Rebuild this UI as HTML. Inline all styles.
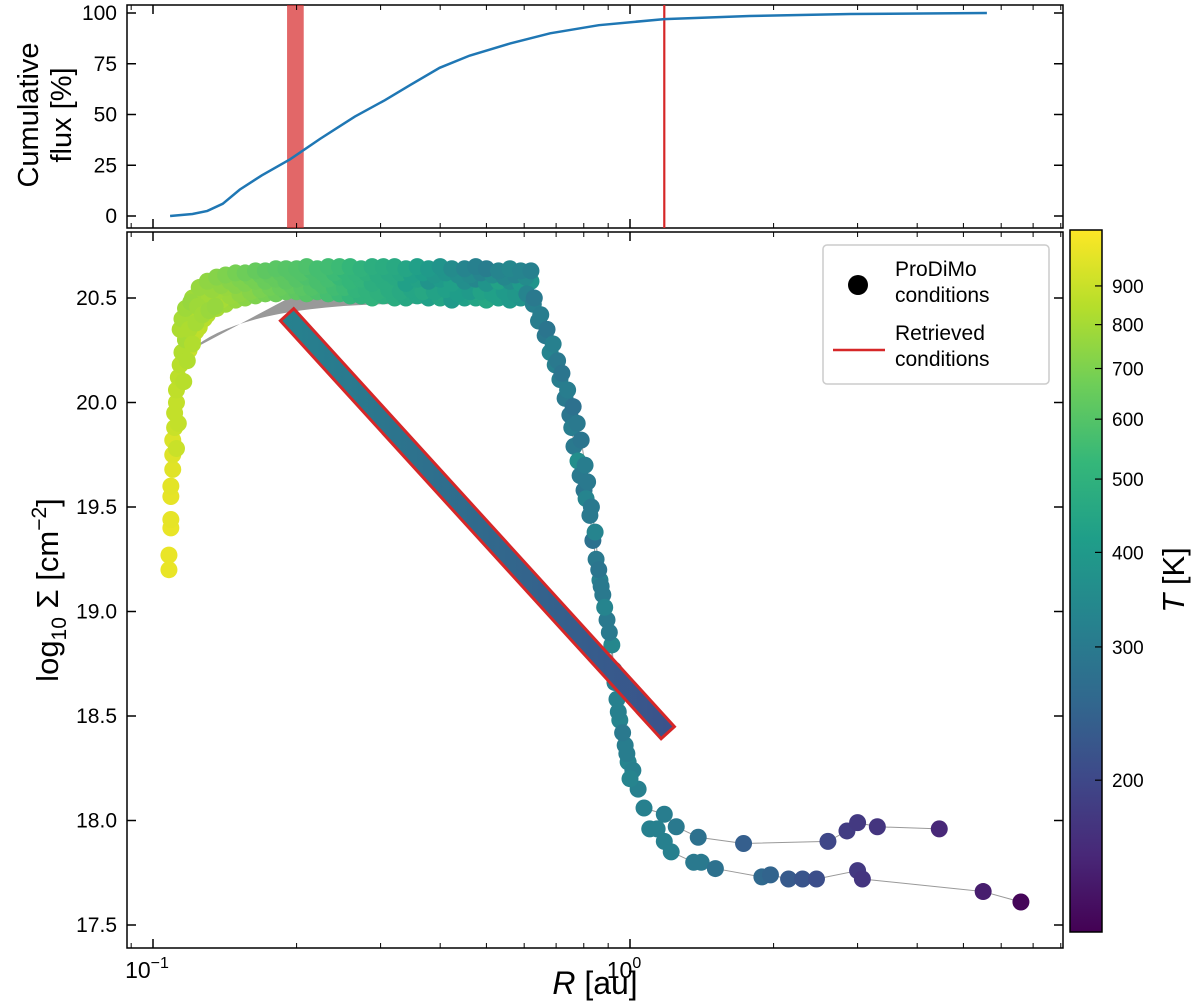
<!DOCTYPE html>
<html><head><meta charset="utf-8"><style>
body{margin:0;background:#fff;}
svg{display:block;font-family:"Liberation Sans",sans-serif;}
</style></head><body>
<svg id="fig" width="1200" height="1001" viewBox="0 0 1200 1001">
<defs>
<linearGradient id="cbgrad" x1="0" y1="1" x2="0" y2="0">
<stop offset="0" stop-color="#440154"/><stop offset="0.11" stop-color="#482878"/><stop offset="0.22" stop-color="#3e4989"/><stop offset="0.33" stop-color="#31688e"/><stop offset="0.44" stop-color="#26828e"/><stop offset="0.56" stop-color="#1f9e89"/><stop offset="0.67" stop-color="#35b779"/><stop offset="0.78" stop-color="#6ece58"/><stop offset="0.89" stop-color="#b5de2b"/><stop offset="1" stop-color="#fde725"/>
</linearGradient>
<linearGradient id="retgrad" x1="0" y1="0" x2="1" y2="0">
<stop offset="0" stop-color="#26828e"/><stop offset="1" stop-color="#3b528b"/>
</linearGradient>
</defs>
<g id="topPanel"></g>
<g id="botPanel"></g>
<g id="cbar"></g>
</svg>
<script>
// ---- data ----
const fluxR=[0.1086,0.121,0.130,0.140,0.152,0.169,0.194,0.224,0.265,0.306,0.346,0.399,0.461,0.561,0.68,0.86,1.18,1.78,2.9,5.6];
const fluxPct=[0,1,2.5,6,13,20,28,38,49,57,64.5,73,79,85,90,94,97,98.5,99.5,100];
const bandLo=[0.191,0.207];
const retrievedLineR=1.18;
const leftR=[0.108,0.108,0.109,0.109,0.109,0.109,0.11,0.11,0.11,0.111,0.111,0.112,0.112,0.113,0.114,0.115,0.117,0.112,0.113,0.116,0.118,0.114,0.115,0.117,0.119,0.121,0.123,0.12,0.124,0.127,0.131,0.135];
const leftS=[19.2,19.27,19.4,19.44,19.55,19.6,19.68,19.75,19.82,19.88,19.95,20.0,20.06,20.12,20.18,20.24,20.3,19.78,19.9,20.1,20.2,20.35,20.4,20.45,20.35,20.28,20.38,20.48,20.46,20.42,20.44,20.46];
const leftT=[1000,1000,1000,990,990,980,970,960,950,900,880,880,870,860,850,830,800,900,880,850,830,820,800,780,820,830,800,760,780,790,770,760];
const bandR=[0.117,0.121,0.125,0.13,0.136,0.142,0.149,0.156,0.164,0.172,0.181,0.19,0.2,0.21,0.221,0.233,0.246,0.259,0.273,0.288,0.304,0.321,0.339,0.358,0.378,0.4,0.423,0.45,0.475,0.5,0.53,0.56,0.59,0.62];
const bandSHi=[20.42,20.5,20.55,20.58,20.6,20.61,20.62,20.62,20.63,20.63,20.64,20.64,20.64,20.65,20.64,20.65,20.65,20.65,20.64,20.65,20.65,20.65,20.64,20.65,20.64,20.65,20.64,20.64,20.65,20.64,20.63,20.64,20.63,20.63];
const bandSMid=[20.3,20.4,20.45,20.5,20.53,20.55,20.56,20.57,20.58,20.58,20.59,20.58,20.59,20.6,20.58,20.59,20.6,20.58,20.59,20.57,20.58,20.6,20.57,20.59,20.58,20.59,20.57,20.58,20.59,20.57,20.58,20.58,20.57,20.58];
const bandSLo=[20.2,20.3,20.36,20.42,20.45,20.47,20.49,20.5,20.51,20.52,20.52,20.53,20.53,20.52,20.53,20.52,20.52,20.51,20.51,20.5,20.51,20.5,20.5,20.51,20.5,20.5,20.49,20.5,20.5,20.49,20.5,20.49,20.5,20.5];
const bandTHi=[820,780,760,740,720,700,680,660,640,620,610,600,590,580,560,550,540,520,500,480,470,460,440,420,400,380,350,330,320,310,330,340,330,320];
const bandTMid=[880,850,820,800,780,760,720,700,680,650,640,620,600,580,570,560,530,520,510,480,470,460,420,430,380,400,420,360,340,380,430,360,400,380];
const bandTLo=[900,880,860,840,800,780,760,730,700,680,660,640,620,600,580,560,540,520,500,500,480,470,450,440,420,440,400,420,440,450,420,400,380,370];
const band2R=[0.119,0.123,0.128,0.133,0.139,0.145,0.152,0.16,0.168,0.176,0.185,0.195,0.205,0.215,0.227,0.24,0.252,0.266,0.28,0.296,0.312,0.33,0.348,0.368,0.389,0.411,0.436,0.462,0.487,0.515,0.545,0.575,0.605];
const band2SA=[20.36,20.45,20.5,20.54,20.56,20.58,20.59,20.6,20.61,20.61,20.62,20.62,20.62,20.63,20.62,20.62,20.63,20.62,20.62,20.61,20.62,20.62,20.61,20.62,20.61,20.62,20.61,20.61,20.62,20.61,20.6,20.61,20.6];
const band2SB=[20.25,20.34,20.4,20.46,20.49,20.51,20.52,20.53,20.54,20.55,20.55,20.56,20.55,20.55,20.56,20.55,20.55,20.54,20.54,20.53,20.54,20.53,20.54,20.53,20.53,20.54,20.52,20.53,20.53,20.52,20.53,20.52,20.53];
const band2TA=[850,820,790,760,740,720,700,680,650,640,620,600,590,570,560,540,520,510,490,470,460,450,420,410,390,380,360,350,330,360,340,330,350];
const band2TB=[890,870,850,820,800,770,740,720,690,670,650,630,610,590,570,550,540,510,500,490,470,460,440,450,430,420,410,400,430,420,400,390,380];
const dropR=[0.608,0.627,0.643,0.664,0.680,0.697,0.713,0.731,0.748,0.755,0.763,0.778,0.786,0.801,0.809,0.824,0.836,0.849,0.865,0.877,0.895,0.916,0.925,0.939,0.952,0.977,0.991,1.014,1.04];
const dropS=[20.52,20.47,20.39,20.32,20.24,20.18,20.11,20.02,19.94,19.88,19.79,19.72,19.65,19.58,19.54,19.46,19.34,19.25,19.15,19.08,18.96,18.84,18.72,18.58,18.48,18.36,18.28,18.24,18.15];
const dropT=[330,320,310,300,330,320,310,300,290,310,300,360,300,290,330,300,280,300,320,300,300,340,300,320,330,310,330,320,320];
const drop2R=[0.63,0.65,0.67,0.69,0.705,0.72,0.74,0.76,0.775,0.79,0.805,0.815,0.83,0.845,0.86,0.87,0.885,0.905,0.93,0.945,0.965,0.985,1.0];
const drop2S=[20.5,20.42,20.35,20.28,20.2,20.14,20.06,19.98,19.9,19.82,19.7,19.62,19.5,19.38,19.2,19.12,19.02,18.9,18.66,18.52,18.42,18.32,18.2];
const drop2T=[300,310,290,320,300,290,310,280,300,290,310,300,300,330,290,300,330,300,310,320,300,310,330];
const upR=[1.07,1.18,1.25,1.39,1.73,2.6,2.85,3.0,3.3,4.45];
const upS=[18.06,18.03,17.97,17.92,17.89,17.90,17.95,17.99,17.97,17.96];
const upT=[320,310,300,280,240,200,185,180,175,160];
const lowR=[1.10,1.14,1.18,1.22,1.36,1.41,1.51,1.89,1.97,2.15,2.30,2.46,3.0,3.07,5.5,6.6];
const lowS=[17.96,17.96,17.90,17.85,17.80,17.80,17.77,17.73,17.74,17.72,17.72,17.72,17.76,17.72,17.66,17.61];
const lowT=[320,320,320,320,300,300,280,260,250,230,220,210,180,175,150,130];
const retR=[0.191,1.20];
const retS=[20.42,18.42];
const cbTicks=[200,300,400,500,600,700,800,900];
const topYTicks=[0,25,50,75,100];
const botYTicks=[17.5,18.0,18.5,19.0,19.5,20.0,20.5];

// ---- scales ----
const NS="http://www.w3.org/2000/svg";
const XL=127,XR=1063;
const xs=r=>153+(Math.log10(r)+1)*477;
const ysT=v=>216-v*2.03;
const ysB=s=>298-(s-20.5)*209;
const Tmin=126,Tmax=1067;
const CBT=230,CBB=932;
const cby=t=>CBB-(Math.log10(t)-Math.log10(Tmin))/(Math.log10(Tmax)-Math.log10(Tmin))*(CBB-CBT);
const vir=["#440154","#482878","#3e4989","#31688e","#26828e","#1f9e89","#35b779","#6ece58","#b5de2b","#fde725"].map(h=>[parseInt(h.slice(1,3),16),parseInt(h.slice(3,5),16),parseInt(h.slice(5,7),16)]);
function tcol(t){let f=(Math.log10(t)-Math.log10(Tmin))/(Math.log10(Tmax)-Math.log10(Tmin));f=Math.max(0,Math.min(1,f))*9;const i=Math.min(8,Math.floor(f)),u=f-i;const c=vir[i].map((v,k)=>Math.round(v+(vir[i+1][k]-v)*u));return `rgb(${c})`;}
function el(tag,attrs,parent,text){const e=document.createElementNS(NS,tag);for(const k in attrs)e.setAttribute(k,attrs[k]);if(text!==undefined)e.textContent=text;parent.appendChild(e);return e;}
const topG=document.getElementById('topPanel'),botG=document.getElementById('botPanel'),cb=document.getElementById('cbar');

function xticks(g,y0,y1,labels){
  const majors=[0.1,1];const minors=[0.09,0.2,0.3,0.4,0.5,0.6,0.7,0.8,0.9,2,3,4,5,6,7,8];
  majors.forEach(r=>{const x=xs(r);el('line',{x1:x,x2:x,y1:y1,y2:y1-9,stroke:'#000','stroke-width':1.5},g);el('line',{x1:x,x2:x,y1:y0,y2:y0+9,stroke:'#000','stroke-width':1.5},g);});
  minors.forEach(r=>{const x=xs(r);if(x<XL||x>XR)return;el('line',{x1:x,x2:x,y1:y1,y2:y1-5,stroke:'#000','stroke-width':1},g);el('line',{x1:x,x2:x,y1:y0,y2:y0+5,stroke:'#000','stroke-width':1},g);});
  if(labels){[[0.1,'−1'],[1,'0']].forEach(([r,e])=>{const t=el('text',{x:xs(r)-6,y:y1+30,'font-size':23,'text-anchor':'middle'},g);
    
    
    el('tspan',{},t,'10');el('tspan',{dy:-10,'font-size':16},t,e);});}
}

// ---- top panel ----
const tp=el('rect',{x:XL,y:5,width:XR-XL,height:223,fill:'none',stroke:'#000','stroke-width':1.5},topG);


const band=el('rect',{x:xs(bandLo[0]),y:5,width:xs(bandLo[1])-xs(bandLo[0]),height:223,fill:'#d62728','fill-opacity':0.7},topG);


const vl=el('line',{x1:xs(retrievedLineR),x2:xs(retrievedLineR),y1:5,y2:228,stroke:'#d62728','stroke-width':2.2},topG);


const fl=el('polyline',{points:fluxR.map((r,i)=>xs(r)+','+ysT(fluxPct[i])).join(' '),fill:'none',stroke:'#1f77b4','stroke-width':2.5},topG);


xticks(topG,5,228,false);
topYTicks.forEach(v=>{const y=ysT(v);el('line',{x1:XL,x2:XL+9,y1:y,y2:y,stroke:'#000','stroke-width':1.5},topG);el('line',{x1:XR,x2:XR-9,y1:y,y2:y,stroke:'#000','stroke-width':1.5},topG);
  const t=el('text',{x:XL-10,y:y+7,'font-size':21,'text-anchor':'end'},topG,String(v));
  
  });
const tyl=el('text',{transform:'translate(44,115) rotate(-90)','font-size':29,'text-anchor':'middle'},topG);


el('tspan',{x:0,dy:-6},tyl,'Cumulative');el('tspan',{x:0,dy:33},tyl,'flux [%]');

// ---- bottom panel ----
const bp=el('rect',{x:XL,y:232,width:XR-XL,height:716,fill:'none',stroke:'#000','stroke-width':1.5},botG);


function gline(R,S,name){const p=el('polyline',{points:R.map((r,i)=>xs(r)+','+ysB(S[i])).join(' '),fill:'none',stroke:'#999','stroke-width':1},botG);
  
  }
gline(bandR,bandSLo,'band-track-line');
gline(dropR,dropS,'drop-track-line');
gline(drop2R,drop2S,'drop-track-line-2');
gline(upR,upS,'upper-tail-line');
gline(lowR,lowS,'lower-tail-line');
const gf=el('path',{d:`M${xs(0.12)},${ysB(20.25)} Q${xs(0.15)},${ysB(20.45)} ${xs(0.3)},${ysB(20.47)} L${xs(0.6)},${ysB(20.48)} L${xs(0.6)},${ysB(20.52)} L${xs(0.2)},${ysB(20.52)} Z`,fill:'#999'},botG);


function pts(R,S,T,name){R.forEach((r,i)=>{const c=el('circle',{cx:xs(r),cy:ysB(S[i]),r:8.5,fill:tcol(T[i])},botG);
  
  });}
pts(bandR,bandSLo,bandTLo,'prodimo-point');
pts(band2R,band2SB,band2TB,'prodimo-point');
pts(bandR,bandSMid,bandTMid,'prodimo-point');
pts(band2R,band2SA,band2TA,'prodimo-point');
pts(bandR,bandSHi,bandTHi,'prodimo-point');
pts(leftR,leftS,leftT,'prodimo-point');
pts(dropR,dropS,dropT,'prodimo-point');
pts(drop2R,drop2S,drop2T,'prodimo-point');
pts(upR,upS,upT,'prodimo-point');
pts(lowR,lowS,lowT,'prodimo-point');
(function(){const x0=xs(retR[0]),y0=ysB(retS[0]),x1=xs(retR[1]),y1=ysB(retS[1]);const dx=x1-x0,dy=y1-y0,L=Math.hypot(dx,dy),w=9,nx=-dy/L*w,ny=dx/L*w;
  const p=el('polygon',{points:`${x0+nx},${y0+ny} ${x1+nx},${y1+ny} ${x1-nx},${y1-ny} ${x0-nx},${y0-ny}`,fill:'url(#retgrad)',stroke:'#d62728','stroke-width':3},botG);
  
  })();
xticks(botG,232,948,true);
botYTicks.forEach(v=>{const y=ysB(v);el('line',{x1:XL,x2:XL+9,y1:y,y2:y,stroke:'#000','stroke-width':1.5},botG);el('line',{x1:XR,x2:XR-9,y1:y,y2:y,stroke:'#000','stroke-width':1.5},botG);
  const t=el('text',{x:XL-10,y:y+7,'font-size':21,'text-anchor':'end'},botG,v.toFixed(1));
  
  });
const xt=el('text',{x:595,y:994,'font-size':32,'text-anchor':'middle'},botG);


el('tspan',{'font-style':'italic'},xt,'R');el('tspan',{},xt,' [au]');
const yt=el('text',{transform:'translate(58,590) rotate(-90)','font-size':31,'text-anchor':'middle'},botG);


el('tspan',{},yt,'log');el('tspan',{dy:8,'font-size':21},yt,'10');el('tspan',{dy:-8},yt,' Σ [cm');el('tspan',{dy:-12,'font-size':21},yt,'−2');el('tspan',{dy:12},yt,']');
const lg=el('g',{},botG);


el('rect',{x:823,y:245,width:226,height:139,rx:4,fill:'#fff',stroke:'#ccc','stroke-width':1.5},lg);
const lc=el('circle',{cx:858,cy:285,r:10,fill:'#000'},lg);


el('text',{x:895,y:276,'font-size':21},lg,'ProDiMo');el('text',{x:895,y:302,'font-size':21},lg,'conditions');
const ll=el('line',{x1:833,x2:885,y1:350,y2:350,stroke:'#d62728','stroke-width':2.5},lg);


el('text',{x:895,y:340,'font-size':21},lg,'Retrieved');el('text',{x:895,y:366,'font-size':21},lg,'conditions');

// ---- colorbar ----
const cr=el('rect',{x:1070,y:CBT,width:32,height:CBB-CBT,fill:'url(#cbgrad)',stroke:'#000','stroke-width':1.5},cb);


cbTicks.forEach(t=>{const y=cby(t);el('line',{x1:1102,x2:1095,y1:y,y2:y,stroke:'#000','stroke-width':1.2},cb);
  const tx=el('text',{x:1112,y:y+7,'font-size':19},cb,String(t));
  
  });
const ct=el('text',{transform:'translate(1184,580) rotate(-90)','font-size':31,'text-anchor':'middle'},cb);


el('tspan',{'font-style':'italic'},ct,'T');el('tspan',{},ct,' [K]');
</script>
</body></html>
